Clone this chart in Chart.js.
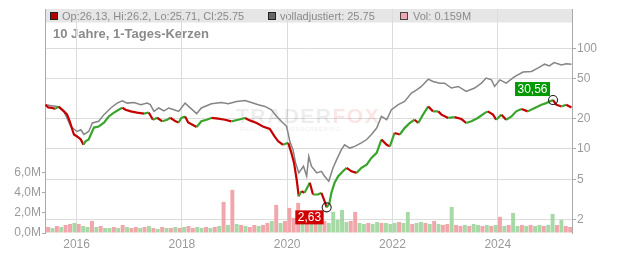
<!DOCTYPE html>
<html><head><meta charset="utf-8">
<script src="https://cdn.jsdelivr.net/npm/chart.js@4/dist/chart.umd.min.js"></script>
<style>html,body{margin:0;padding:0;background:#fff;}canvas{display:block;}</style>
</head><body>
<canvas id="c" width="632" height="253"></canvas>
<script>
// ---- data ----
const priceDates = [2015.41,2015.46,2015.53,2015.59,2015.66,2015.76,2015.82,2015.87,2015.92,2015.95,
 2016.01,2016.08,2016.13,2016.17,2016.23,2016.27,2016.33,2016.42,2016.52,2016.61,2016.71,2016.80,2016.87,2016.93,
 2017.03,2017.15,2017.28,2017.37,2017.45,2017.53,2017.63,2017.72,2017.78,2017.88,2017.94,2017.99,
 2018.06,2018.12,2018.28,2018.37,2018.47,2018.56,2018.69,2018.82,2018.94,
 2019.07,2019.20,2019.29,2019.42,2019.54,2019.67,2019.76,2019.83,2019.92,
 2020.02,2020.08,2020.13,2020.18,2020.22,2020.27,2020.33,2020.43,2020.49,2020.59,2020.65,2020.71,2020.75,2020.80,2020.84,2020.90,2020.97,
 2021.06,2021.13,2021.22,2021.32,2021.41,2021.51,2021.60,2021.70,2021.79,2021.89,2021.95,
 2022.04,2022.14,2022.23,2022.33,2022.42,2022.49,2022.58,2022.68,2022.77,2022.87,2022.93,
 2023.06,2023.18,2023.31,2023.40,2023.50,2023.62,2023.75,2023.81,2023.91,2023.97,
 2024.07,2024.16,2024.26,2024.35,2024.45,2024.57,2024.70,2024.83,2024.92,
 2025.05,2025.11,2025.21,2025.30,2025.40];
const priceClose = [27.5,25.8,25.6,25.0,26.4,23.6,21.9,18.8,15.5,13.9,
 13.3,12.4,11.0,11.9,12.4,13.9,16.3,16.7,18.2,21.0,22.9,24.5,25.6,24.5,
 23.6,22.9,22.4,23.0,19.5,20.4,18.8,19.5,20.4,18.8,18.3,20.3,
 21.0,18.3,16.5,18.8,19.5,20.3,20.0,19.5,18.8,
 19.5,20.3,19.2,18.1,16.7,15.8,13.3,11.9,11.0,
 11.5,9.13,7.27,4.97,3.39,3.80,3.67,4.61,3.53,3.53,3.67,3.03,2.63,2.85,3.67,4.61,5.36,
 6.00,6.48,6.00,5.79,6.48,6.99,8.15,9.13,12.4,11.0,10.6,
 14.4,13.9,16.1,18.1,19.5,18.1,21.9,26.4,23.6,23.6,21.9,
 20.3,20.7,19.8,18.1,18.8,20.3,22.7,23.6,21.9,19.5,
 21.9,19.5,21.0,23.6,24.9,23.6,25.5,27.5,28.5,
 30.56,27.5,26.4,27.5,25.75];

const adjDates = [2015.41,2015.50,2015.63,2015.76,2015.89,2016.01,2016.08,2016.14,2016.23,2016.30,2016.42,2016.52,2016.65,2016.77,2016.87,2016.96,
 2017.09,2017.22,2017.34,2017.40,2017.47,2017.56,2017.66,2017.75,2017.85,2017.94,
 2018.06,2018.28,2018.37,2018.56,2018.75,2018.88,
 2019.04,2019.20,2019.32,2019.45,2019.58,2019.70,2019.80,2019.89,2019.99,
 2020.05,2020.11,2020.16,2020.22,2020.31,2020.37,2020.41,2020.46,2020.56,2020.65,2020.71,2020.79,2020.87,2020.94,
 2021.03,2021.09,2021.19,2021.28,2021.41,2021.51,2021.60,2021.70,2021.79,2021.89,2021.98,
 2022.11,2022.23,2022.36,2022.46,2022.55,2022.68,2022.77,2022.90,2022.99,
 2023.12,2023.25,2023.40,2023.56,2023.69,2023.78,2023.88,2023.94,
 2024.04,2024.16,2024.32,2024.48,2024.64,2024.76,2024.89,2024.98,
 2025.07,2025.21,2025.30,2025.40];
const adjClose = [27.5,27.0,26.4,23.6,16.7,14.9,15.5,13.9,14.9,18.1,18.8,21.9,25.5,28.5,30.1,28.5,
 28.9,27.5,28.5,27.5,23.6,25.5,23.9,25.5,24.5,23.6,
 28.5,22.4,25.5,28.1,28.9,28.1,
 29.6,30.3,28.9,27.5,26.4,24.5,21.0,18.8,16.7,
 11.9,9.84,7.27,5.79,6.73,5.36,8.45,6.73,5.79,6.00,5.36,4.78,6.48,7.83,
 9.84,11.0,10.2,10.6,11.5,12.4,13.9,16.1,21.0,19.5,24.5,
 27.5,29.6,35.8,38.6,41.7,49.3,46.7,45.0,45.0,
 40.2,41.7,37.2,40.2,45.0,50.5,48.5,41.7,
 48.5,45.0,52.3,57.9,58.7,63.4,69.4,66.8,
 72.0,68.3,69.9,69.4];

const volMonths = [
 '2015-06','2015-07','2015-08','2015-09','2015-10','2015-11','2015-12',
 '2016-01','2016-02','2016-03','2016-04','2016-05','2016-06','2016-07','2016-08','2016-09','2016-10','2016-11','2016-12',
 '2017-01','2017-02','2017-03','2017-04','2017-05','2017-06','2017-07','2017-08','2017-09','2017-10','2017-11','2017-12',
 '2018-01','2018-02','2018-03','2018-04','2018-05','2018-06','2018-07','2018-08','2018-09','2018-10','2018-11','2018-12',
 '2019-01','2019-02','2019-03','2019-04','2019-05','2019-06','2019-07','2019-08','2019-09','2019-10','2019-11','2019-12',
 '2020-01','2020-02','2020-03','2020-04','2020-05','2020-06','2020-07','2020-08','2020-09','2020-10','2020-11','2020-12',
 '2021-01','2021-02','2021-03','2021-04','2021-05','2021-06','2021-07','2021-08','2021-09','2021-10','2021-11','2021-12',
 '2022-01','2022-02','2022-03','2022-04','2022-05','2022-06','2022-07','2022-08','2022-09','2022-10','2022-11','2022-12',
 '2023-01','2023-02','2023-03','2023-04','2023-05','2023-06','2023-07','2023-08','2023-09','2023-10','2023-11','2023-12',
 '2024-01','2024-02','2024-03','2024-04','2024-05','2024-06','2024-07','2024-08','2024-09','2024-10','2024-11','2024-12',
 '2025-01','2025-02','2025-03','2025-04','2025-05'];
const volumeM = [
 .6,.5,.7,.6,.8,.9,1.0,
 .9,.7,.6,1.2,.6,.7,.5,.5,.6,.5,.8,.6,
 .5,.6,.5,.6,.7,.5,.4,.6,.5,.5,.6,.5,
 .6,.7,.5,.6,.5,.6,.5,.6,.7,3.1,.8,4.3,
 .9,.8,.7,.6,.8,.7,.8,1.0,1.2,2.8,1.0,1.2,
 2.5,1.5,3.0,1.8,1.2,1.3,1.0,1.1,1.2,1.0,2.1,1.3,
 2.3,1.1,1.2,2.1,1.0,.9,1.0,.9,1.1,1.0,1.0,.9,
 1.0,1.1,1.0,2.1,.9,1.0,1.1,1.0,.9,1.2,.9,.8,
 .9,2.6,.8,.7,.8,.7,.9,.8,.7,.8,.7,.8,
 1.6,.7,.8,2.0,.7,.8,.7,.8,.7,.8,.7,.8,
 1.9,.8,1.3,.7,.6];
// u = up day (green), d = down day (pink), as seen in the volume bars
const volDirection = [
 'd','u','d','u','d','d','u',
 'd','u','u','d','u','d','u','u','d','u','d','u',
 'd','d','u','d','u','d','u','d','u','d','u','d',
 'u','d','d','u','u','d','u','d','u','d','u','d',
 'u','d','u','d','d','u','d','d','u','d','u','d',
 'd','d','d','u','d','u','d','u','d','u','u','u',
 'u','u','d','d','u','u','d','u','u','d','u','u',
 'u','d','u','u','d','u','u','d','u','d','u','d',
 'd','u','d','d','u','d','u','u','d','u','d','u',
 'd','u','d','u','u','d','u','d','u','u','d','u',
 'u','d','u','d','d'];

const xTickYears = [2016,2018,2020,2022,2024];
const priceTicks = [2,5,10,20,50,100];
const volTicks = [0,2,4,6];
const titleText = '10 Jahre, 1-Tages-Kerzen';
const legendTexts = ['Op:26.13, Hi:26.2, Lo:25.71, Cl:25.75','volladjustiert: 25.75','Vol: 0.159M'];

// ---- styles ----
const FONT = '"Liberation Sans", Arial, sans-serif';
const RED = '#c40000', GREEN = '#3aa52c', GRAY = '#858585';
const VOL_DOWN = 'rgba(238,150,158,0.85)', VOL_UP = 'rgba(150,210,150,0.85)';
Chart.defaults.font.family = FONT;

function monthCenter(s){ const [y,m] = s.split('-').map(Number); return y + (m - 0.5)/12; }
const volPoints = volMonths.map((m,i)=>({x: monthCenter(m), y: volumeM[i]}));
const volColors = volDirection.map(d => d === 'u' ? VOL_UP : VOL_DOWN);
const fmt = v => v.toFixed(2).replace('.', ',');

const overlay = {
  id: 'overlay',
  beforeDraw(chart){
    const {ctx, chartArea:a} = chart;
    ctx.save();
    ctx.fillStyle = '#e6e6e6';
    ctx.fillRect(a.left, a.top, a.right - a.left, 13.5);
    const boxes = [
      {x: 50, fill: '#b00000', stroke: '#222', tx: 62},
      {x: 268, fill: '#666666', stroke: '#222', tx: 280},
      {x: 400, fill: '#f0a8b0', stroke: '#444', tx: 413}
    ];
    ctx.font = '11px ' + FONT;
    ctx.textBaseline = 'middle';
    boxes.forEach((b,i) => {
      ctx.fillStyle = b.fill; ctx.fillRect(b.x, 12.5, 7, 7);
      ctx.strokeStyle = b.stroke; ctx.lineWidth = 1; ctx.strokeRect(b.x + 0.5, 12.5, 7, 7);
      ctx.fillStyle = '#8a8a8a'; ctx.fillText(legendTexts[i], b.tx, 16.5);
    });
    ctx.font = 'bold 13px ' + FONT;
    ctx.fillStyle = '#8a8a8a';
    ctx.fillText(titleText, 53, 34);
    ctx.restore();
  },
  beforeDatasetsDraw(chart){
    const {ctx} = chart;
    ctx.save();
    ctx.textBaseline = 'alphabetic';
    ctx.font = 'bold 21px ' + FONT;
    try { ctx.letterSpacing = '1.5px'; } catch(e) {}
    ctx.fillStyle = 'rgba(0,0,0,0.07)';
    ctx.fillText('TRADER', 236, 123);
    const w = ctx.measureText('TRADER').width;
    ctx.fillStyle = 'rgba(235,70,70,0.14)';
    ctx.fillText('FOX', 236 + w, 123);
    try { ctx.letterSpacing = '0.5px'; } catch(e) {}
    ctx.font = '6px ' + FONT;
    ctx.fillStyle = 'rgba(0,0,0,0.08)';
    ctx.fillText('REALTIME AKTIENSCREENING', 240, 131);
    ctx.restore();
  },
  afterDatasetsDraw(chart){
    const {ctx, scales} = chart;
    let iMin = 0, iMax = 0;
    priceClose.forEach((v,i) => { if (v < priceClose[iMin]) iMin = i; if (v > priceClose[iMax]) iMax = i; });
    ctx.save();
    ctx.font = '12px ' + FONT;
    ctx.textBaseline = 'middle';
    const mark = (i, color, below) => {
      const px = scales.x.getPixelForValue(priceDates[i]);
      const py = scales.y.getPixelForValue(priceClose[i]);
      const txt = fmt(priceClose[i]);
      const tw = ctx.measureText(txt).width + 5;
      const h = 14;
      const bx = px - 3 - tw;
      const by = below ? py + 3 : py - 4 - h;
      ctx.fillStyle = color;
      ctx.fillRect(bx, by, tw, h);
      ctx.fillStyle = '#fff';
      ctx.fillText(txt, bx + 2.5, by + h/2 + 0.5);
      ctx.beginPath();
      ctx.arc(px, py, 4.5, 0, Math.PI*2);
      ctx.strokeStyle = '#222'; ctx.lineWidth = 1.1; ctx.stroke();
    };
    mark(iMin, '#d00000', true);
    mark(iMax, '#009a00', false);
    ctx.restore();
  }
};

new Chart(document.getElementById('c'), {
  data: {
    datasets: [
      { type: 'bar', yAxisID: 'yv', data: volPoints, backgroundColor: volColors,
        barPercentage: 0.9, categoryPercentage: 1, order: 3 },
      { type: 'line', yAxisID: 'y', data: adjDates.map((d,i)=>({x:d, y:adjClose[i]})),
        borderColor: GRAY, borderWidth: 1.5, pointRadius: 0, tension: 0, order: 2 },
      { type: 'line', yAxisID: 'y', data: priceDates.map((d,i)=>({x:d, y:priceClose[i]})),
        borderColor: RED, borderWidth: 2.2, pointRadius: 0, tension: 0, order: 1,
        segment: { borderColor: c => c.p1.parsed.y < c.p0.parsed.y ? RED : GREEN } }
    ]
  },
  options: {
    responsive: false, animation: false, devicePixelRatio: 1,
    layout: { padding: { top: 9, left: 0, right: 0, bottom: 0 } },
    plugins: { legend: { display: false }, tooltip: { enabled: false } },
    scales: {
      x: {
        type: 'linear', position: 'bottom', min: 2015.40, max: 2025.41, offset: false,
        afterBuildTicks: s => { s.ticks = xTickYears.map(v => ({value: v})); },
        afterFit: s => { s.height = 20; },
        grid: { color: '#dcdcdc', drawTicks: false, offset: false },
        border: { display: false },
        ticks: { color: '#9a9a9a', font: { size: 12 }, padding: 4, callback: v => String(v) }
      },
      y: {
        type: 'logarithmic', position: 'right', min: 1.464, max: 244.9,
        afterBuildTicks: s => { s.ticks = priceTicks.map(v => ({value: v})); },
        afterFit: s => { s.width = 60; },
        grid: { color: '#dcdcdc', tickLength: 4, tickColor: '#aaa' },
        border: { display: true, color: '#aaa' },
        ticks: { color: '#9a9a9a', font: { size: 12 }, padding: 1, callback: v => String(v) }
      },
      yv: {
        type: 'linear', position: 'left', min: 0, max: 22.3,
        afterBuildTicks: s => { s.ticks = volTicks.map(v => ({value: v})); },
        afterFit: s => { s.width = 45; },
        grid: { drawOnChartArea: false, tickLength: 3, tickColor: '#aaa' },
        border: { display: true, color: '#aaa' },
        ticks: { color: '#9a9a9a', font: { size: 12 }, padding: 1,
          callback: v => v.toFixed(1).replace('.', ',') + 'M' }
      }
    }
  },
  plugins: [overlay]
});
</script>
</body></html>
